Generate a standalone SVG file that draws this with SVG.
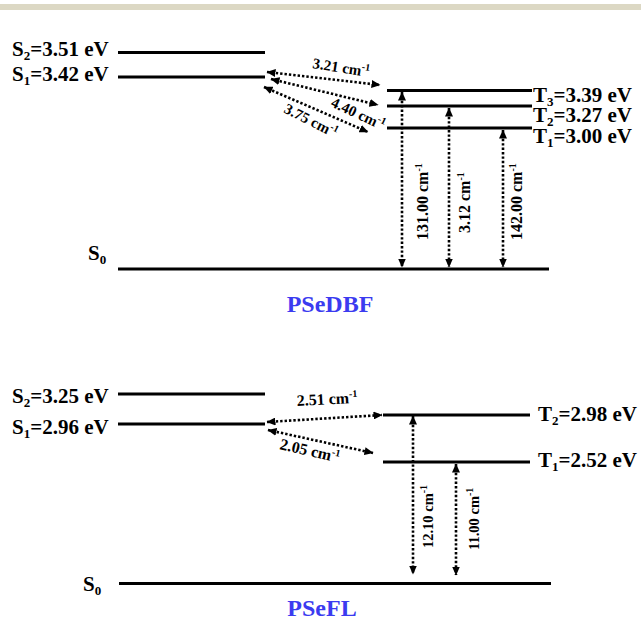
<svg xmlns="http://www.w3.org/2000/svg" width="641" height="620" viewBox="0 0 641 620">
<style>
text{font-family:"Liberation Serif","Times New Roman",serif;font-weight:bold;fill:#000}
.lvl{font-size:21px}
.sub{font-size:13px}
.title{font-size:24px;fill:#3b3bf0;text-anchor:middle}
.rate{font-size:15px}
.rate2{font-size:16px}
.vr{font-size:16px}
.vr2{font-size:14.5px}
.sup{font-size:10px}
.line{stroke:#000;stroke-width:3;fill:none}
.arr{stroke:#000;stroke-width:2.6;stroke-dasharray:2.4 2;fill:none;marker-start:url(#ah);marker-end:url(#ah)}
</style>
<defs>
<marker id="ah" markerUnits="userSpaceOnUse" markerWidth="9" markerHeight="8" refX="8.5" refY="4" orient="auto-start-reverse" viewBox="0 0 9 8">
<path d="M0,0 L9,4 L0,8 z" fill="#000"/>
</marker>
</defs>
<rect x="0" y="4" width="641" height="6" fill="#dcd8c4"/>

<g id="top-S2"><line class="line" x1="118" y1="52.5" x2="265" y2="52.5"/><text class="lvl" x="12" y="55.5">S<tspan class="sub" dy="4">2</tspan><tspan dy="-4">=3.51 eV</tspan></text></g>
<g id="top-S1"><line class="line" x1="118" y1="77" x2="265" y2="77"/><text class="lvl" x="12" y="80.5">S<tspan class="sub" dy="4">1</tspan><tspan dy="-4">=3.42 eV</tspan></text></g>
<g id="top-T3"><line class="line" x1="387" y1="90.5" x2="532" y2="90.5"/><text class="lvl" x="533" y="102">T<tspan class="sub" dy="3.5">3</tspan><tspan dy="-3.5">=3.39 eV</tspan></text></g>
<g id="top-T2"><line class="line" x1="387" y1="106" x2="532" y2="106"/><text class="lvl" x="533" y="122">T<tspan class="sub" dy="3.5">2</tspan><tspan dy="-3.5">=3.27 eV</tspan></text></g>
<g id="top-T1"><line class="line" x1="387" y1="128" x2="532" y2="128"/><text class="lvl" x="533" y="143">T<tspan class="sub" dy="3.5">1</tspan><tspan dy="-3.5">=3.00 eV</tspan></text></g>
<g id="top-S0"><line class="line" x1="118" y1="269" x2="549" y2="269"/><text class="lvl" x="88" y="260">S<tspan class="sub" dy="4">0</tspan></text></g>
<g id="title-PSeDBF"><text class="title" x="330" y="312">PSeDBF</text></g>

<g id="bot-S2"><line class="line" x1="118" y1="394" x2="265" y2="394"/><text class="lvl" x="12" y="403">S<tspan class="sub" dy="4">2</tspan><tspan dy="-4">=3.25 eV</tspan></text></g>
<g id="bot-S1"><line class="line" x1="118" y1="424" x2="265" y2="424"/><text class="lvl" x="12" y="434">S<tspan class="sub" dy="4">1</tspan><tspan dy="-4">=2.96 eV</tspan></text></g>
<g id="bot-T2"><line class="line" x1="383" y1="415" x2="530" y2="415"/><text class="lvl" x="538" y="420.5">T<tspan class="sub" dy="4">2</tspan><tspan dy="-4">=2.98 eV</tspan></text></g>
<g id="bot-T1"><line class="line" x1="383" y1="462" x2="530" y2="462"/><text class="lvl" x="538" y="467">T<tspan class="sub" dy="4">1</tspan><tspan dy="-4">=2.52 eV</tspan></text></g>
<g id="bot-S0"><line class="line" x1="119" y1="583.5" x2="551" y2="583.5"/><text class="lvl" x="83" y="591">S<tspan class="sub" dy="4">0</tspan></text></g>
<g id="title-PSeFL"><text class="title" x="322" y="616">PSeFL</text></g>

<g id="connectors">
<line class="arr" x1="267" y1="72" x2="380" y2="85"/>
<line class="arr" x1="271" y1="79" x2="378" y2="105"/>
<line class="arr" x1="264" y1="87" x2="368" y2="132"/>
<line class="arr" x1="402" y1="92" x2="402" y2="267"/>
<line class="arr" x1="449" y1="108" x2="449" y2="267"/>
<line class="arr" x1="503" y1="130" x2="503" y2="267"/>
<line class="arr" x1="267" y1="422" x2="382" y2="415"/>
<line class="arr" x1="268" y1="430" x2="373" y2="453"/>
<line class="arr" x1="413" y1="416" x2="413" y2="574"/>
<line class="arr" x1="456" y1="464" x2="456" y2="575"/>
</g>

<g id="connector-labels">
<text class="rate" transform="translate(312,68) rotate(9)">3.21 cm<tspan class="sup" dy="-6">-1</tspan></text>
<text class="rate" transform="translate(330,106) rotate(25)">4.40 cm<tspan class="sup" dy="-6">-1</tspan></text>
<text class="rate" transform="translate(283,112) rotate(27)">3.75 cm<tspan class="sup" dy="-6">-1</tspan></text>
<text class="vr" transform="translate(428,240) rotate(-90)">131.00 cm<tspan class="sup" dy="-6">-1</tspan></text>
<text class="vr" transform="translate(470,233) rotate(-90)">3.12 cm<tspan class="sup" dy="-6">-1</tspan></text>
<text class="vr" transform="translate(522,240) rotate(-90)">142.00 cm<tspan class="sup" dy="-6">-1</tspan></text>
<text class="rate2" transform="translate(297,406) rotate(-3)">2.51 cm<tspan class="sup" dy="-6">-1</tspan></text>
<text class="rate2" transform="translate(279,449) rotate(13)">2.05 cm<tspan class="sup" dy="-6">-1</tspan></text>
<text class="vr2" transform="translate(433,548) rotate(-90)">12.10 cm<tspan class="sup" dy="-6">-1</tspan></text>
<text class="vr2" transform="translate(479,550) rotate(-90)">11.00 cm<tspan class="sup" dy="-6">-1</tspan></text>
</g>
</svg>
